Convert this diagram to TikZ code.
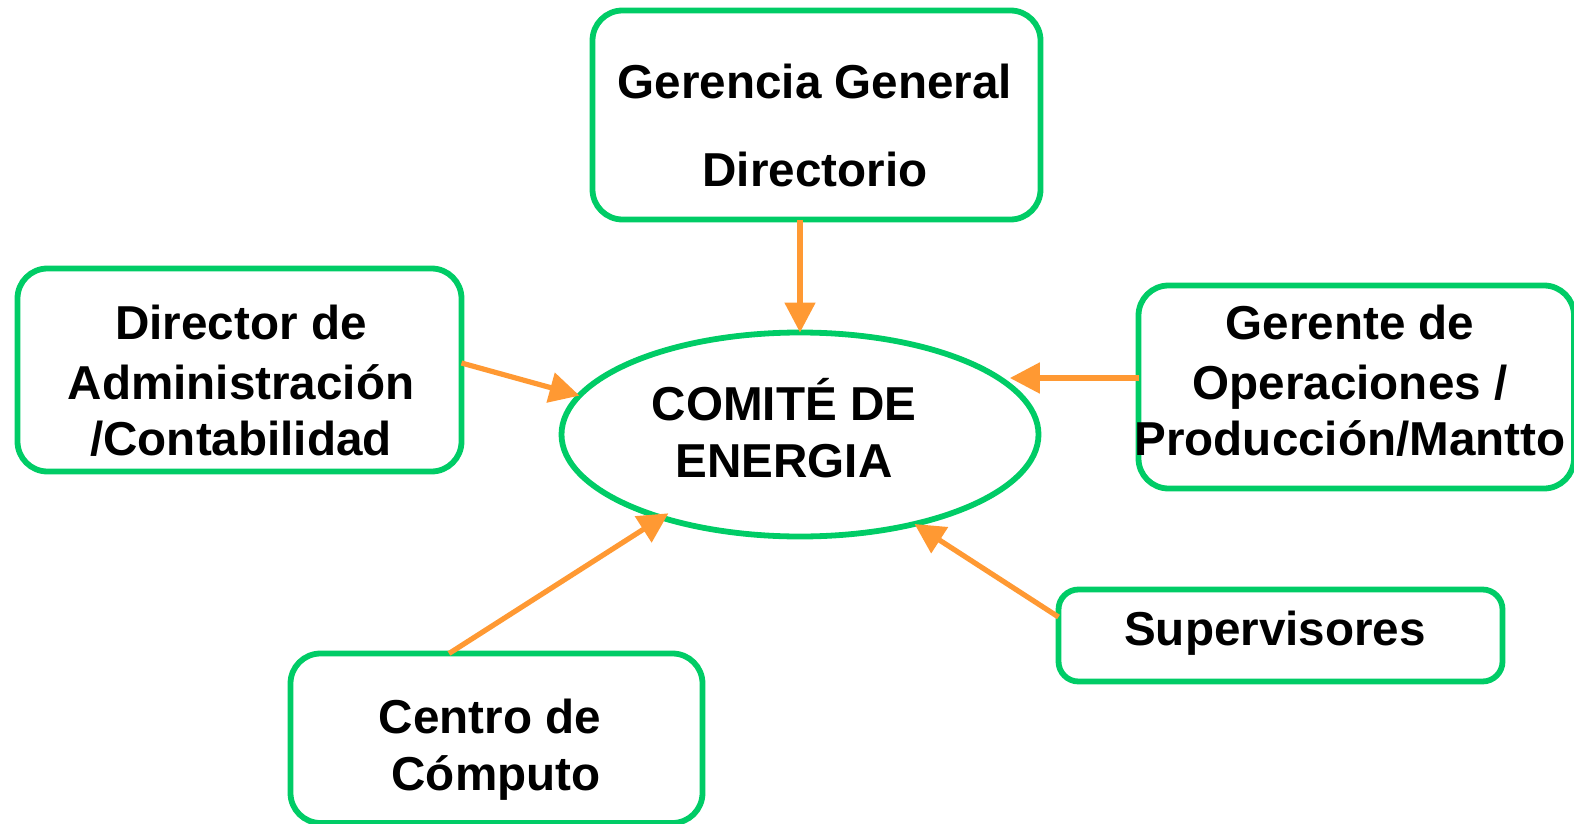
\documentclass[tikz,border=0pt]{standalone}
\usepackage{fontspec}
\setmainfont{Liberation Sans}
\usetikzlibrary{shapes.geometric,arrows.meta,calc}
\definecolor{boxgreen}{HTML}{00CC66}
\definecolor{arrorange}{HTML}{FF9933}
\begin{document}
\begin{tikzpicture}[x=0.5pt,y=-0.5pt,
  box/.style={draw=boxgreen,line width=2.9pt,rounded corners=15pt,inner sep=0pt,outer sep=0pt},
  lbl/.style={font=\bfseries\fontsize{23.8}{28}\selectfont,inner sep=0pt,anchor=base},
  conn/.style={draw=arrorange,line width=2.6pt,-{Triangle[length=15pt,width=15pt]}}]
\useasboundingbox (0,0) rectangle (1574,824);
% boxes
\node[box,minimum width=224pt,minimum height=104.5pt] (gg) at (816.5,115) {};
\node[box,minimum width=222pt,minimum height=101.5pt] (dir) at (239.5,370) {};
\node[box,minimum width=217.75pt,minimum height=101.5pt] (ger) at (1356.25,387) {};
\node[box,minimum width=206pt,minimum height=84.75pt] (cc) at (496.5,738.25) {};
\node[box,rounded corners=10pt,minimum width=222pt,minimum height=46pt] (sup) at (1280.5,635.5) {};
\node[ellipse,draw=boxgreen,line width=2.9pt,inner sep=0pt,outer sep=0pt,minimum width=238.5pt,minimum height=102pt] (ce) at (800,434.5) {};
% labels
\node[lbl] (gg1) at (815,99) {Gerencia General};
\node[lbl] (gg2) at (815,186) {Directorio};
\node[lbl] (dir1) at (241,339) {Director de};
\node[lbl] (dir2) at (241,399) {Administración};
\node[lbl] (dir3) at (241,455) {/Contabilidad};
\node[lbl] (ger1) at (1350,339) {Gerente de};
\node[lbl] (ger2) at (1350,399) {Operaciones /};
\node[lbl] (ger3) at (1350,455) {Producción/Mantto};
\node[lbl] (cc1) at (490,733) {Centro de};
\node[lbl] (cc2) at (496,790) {Cómputo};
\node[lbl] (sup1) at (1275,645) {Supervisores};
\node[lbl] (ce1) at (784,420) {COMITÉ DE};
\node[lbl] (ce2) at (784,477) {ENERGIA};
% connectors
\coordinate (gs) at ($(ger.west)+(0,-9)$);
\draw[conn] (ce.north |- gg.south) -- (ce.north);
\draw[conn] ($(dir.east)+(0,-7)$) -- (ce.170.6);
\draw[conn] (gs) -- (gs -| ce.13);
\draw[conn,shorten >=-4pt] ($(cc.north)+(-47.5,0)$) -- (ce.211.7);
\draw[conn] ($(sup.west)+(0,-18.5)$) -- (ce.-38.6);
\end{tikzpicture}
\end{document}
